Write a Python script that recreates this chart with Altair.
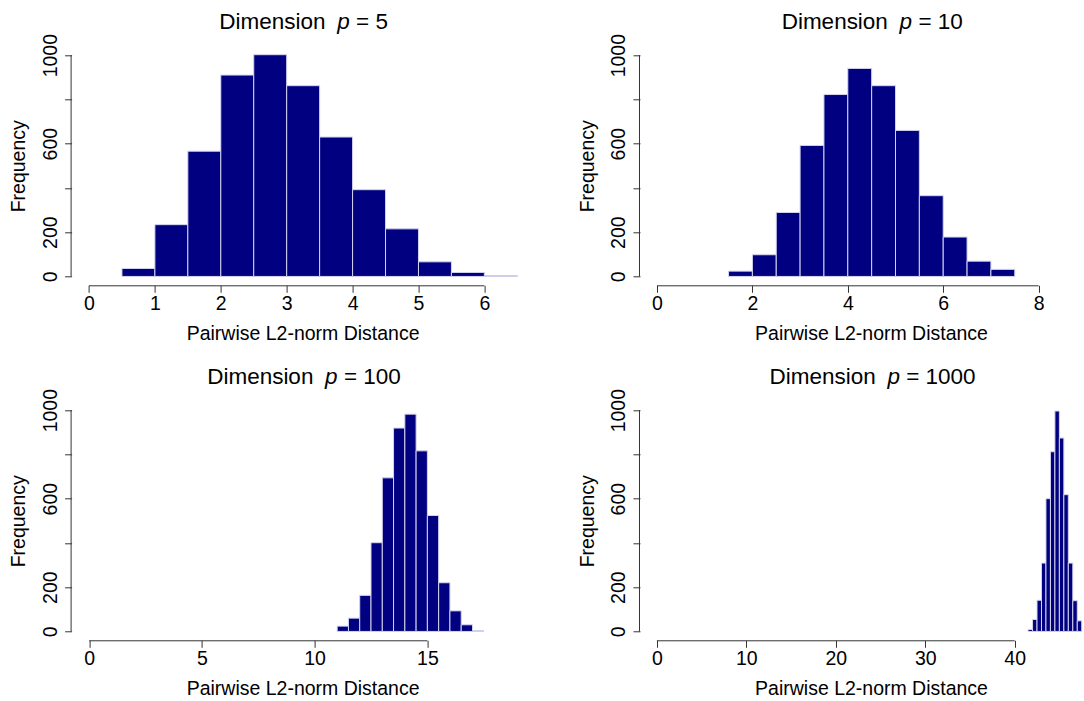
import altair as alt
import pandas as pd

# ---------------- data ----------------
BIN_W = 0.5

p5_bins = [0.5, 1.0, 1.5, 2.0, 2.5, 3.0, 3.5, 4.0, 4.5, 5.0, 5.5, 6.0]
p5_counts = [36, 234, 566, 910, 1002, 862, 630, 392, 215, 66, 18, 3]

p10_bins = [1.5, 2.0, 2.5, 3.0, 3.5, 4.0, 4.5, 5.0, 5.5, 6.0, 6.5, 7.0]
p10_counts = [24, 98, 289, 592, 822, 940, 862, 660, 365, 178, 69, 32]

p100_bins = [11.0, 11.5, 12.0, 12.5, 13.0, 13.5, 14.0, 14.5, 15.0, 15.5, 16.0, 16.5, 17.0]
p100_counts = [24, 60, 163, 401, 694, 919, 982, 816, 524, 220, 93, 30, 3]

p1000_bins = [41.5, 42.0, 42.5, 43.0, 43.5, 44.0, 44.5, 45.0, 45.5, 46.0, 46.5, 47.0]
p1000_counts = [9, 54, 141, 309, 600, 812, 996, 874, 618, 309, 139, 48]

p5_xticks = [0, 1, 2, 3, 4, 5, 6]
p10_xticks = [0, 2, 4, 6, 8]
p100_xticks = [0, 5, 10, 15]
p1000_xticks = [0, 10, 20, 30, 40]

y_ticks = [0, 200, 400, 600, 800, 1000]

dims = ["5", "10", "100", "1000"]

# ---------------- styling ----------------
NAVY = "#000080"
AXC = "#333333"
FONT = "Liberation Sans"
H = 239
LAB = 19.5
TIT = 22.5
XTITLE = "Pairwise L2-norm Distance"
YTITLE = "Frequency"


def panel(dim, bins, counts, xticks, xdomain, width):
    df = pd.DataFrame({"x0": bins, "x1": [b + BIN_W for b in bins], "n": counts})
    xscale = alt.Scale(domain=xdomain, nice=False, zero=False)
    yscale = alt.Scale(domain=[-40, 1040], nice=False, zero=False)
    xaxis = alt.Axis(
        values=xticks, title=XTITLE, format="d", domain=False, grid=False,
        tickSize=7, tickColor=AXC, tickWidth=1,
        labelBaseline="alphabetic", labelPadding=17.5, labelFontSize=LAB,
        labelColor="black", labelFlush=False, labelOverlap=False,
        titleFontSize=LAB, titleFontWeight="normal", titleColor="black",
        titleX=231, titleY=54.5, titleAlign="center", titleBaseline="alphabetic",
    )
    yaxis = alt.Axis(
        values=y_ticks, title=YTITLE, format="d", domain=False, grid=False,
        labelExpr="datum.value == 400 || datum.value == 800 ? '' : datum.label",
        tickSize=7, tickColor=AXC, tickWidth=1,
        labelAngle=-90, labelAlign="center", labelBaseline="alphabetic",
        labelPadding=8.5, labelFontSize=LAB, labelColor="black",
        labelFlush=False, labelOverlap=False,
        titleFontSize=LAB, titleFontWeight="normal", titleColor="black",
        titleAngle=-90, titleX=-46.8, titleY=H / 2, titleAlign="center",
        titleBaseline="alphabetic",
    )
    bars = alt.Chart(df).mark_rect(fill=NAVY, stroke="#d4d4ee", strokeWidth=1).encode(
        x=alt.X("x0:Q", scale=xscale, axis=xaxis),
        x2="x1:Q",
        y=alt.Y("n:Q", scale=yscale, axis=yaxis),
        y2=alt.datum(0),
    )
    xl = pd.DataFrame({"a": [xticks[0]], "b": [xticks[-1]]})
    yl = pd.DataFrame({"a": [y_ticks[0]], "b": [y_ticks[-1]]})
    xline = alt.Chart(xl).mark_rule(color=AXC, strokeWidth=1).encode(
        x=alt.X("a:Q", title=XTITLE), x2="b:Q", y=alt.value(H + 0.5)
    )
    yline = alt.Chart(yl).mark_rule(color=AXC, strokeWidth=1).encode(
        y=alt.Y("a:Q", title=YTITLE), y2="b:Q", x=alt.value(-0.5)
    )
    one = pd.DataFrame({"k": [0]})
    shift = -(len(dim) - 1) * 6.1
    t_dim = alt.Chart(one).mark_text(
        text="Dimension", align="right", baseline="alphabetic", fontSize=TIT,
        font=FONT, color="black",
    ).encode(x=alt.value(254.0 + shift), y=alt.value(-17))
    t_p = alt.Chart(one).mark_text(
        text="p", align="left", baseline="alphabetic", fontSize=TIT,
        font=FONT, fontStyle="italic", color="black",
    ).encode(x=alt.value(265.7 + shift), y=alt.value(-17))
    t_eq = alt.Chart(one).mark_text(
        text="= " + dim, align="left", baseline="alphabetic", fontSize=TIT,
        font=FONT, color="black",
    ).encode(x=alt.value(284.5 + shift), y=alt.value(-17))
    return alt.layer(bars, xline, yline, t_dim, t_p, t_eq).properties(width=width, height=H)


c1 = panel(dims[0], p5_bins, p5_counts, p5_xticks, [-0.264, 6.747], 462)
c2 = panel(dims[1], p10_bins, p10_counts, p10_xticks, [-0.356, 8.93], 443)
c3 = panel(dims[2], p100_bins, p100_counts, p100_xticks, [-0.777, 19.71], 462)
c4 = panel(dims[3], p1000_bins, p1000_counts, p1000_xticks, [-1.89, 47.64], 443)

chart = (
    alt.concat(
        c1, c2, c3, c4, columns=2, spacing={"row": 116, "column": 106.4}, bounds="flush"
    )
    .properties(
        padding={"left": 8.6, "top": 11.3, "right": 0, "bottom": 0},
        background="white",
    )
    .configure(font=FONT)
    .configure_view(strokeWidth=0, stroke="transparent")
    .configure_axis(domain=False, grid=False)
)

chart.save("out.html", embed_options={"renderer": "svg", "actions": False})
